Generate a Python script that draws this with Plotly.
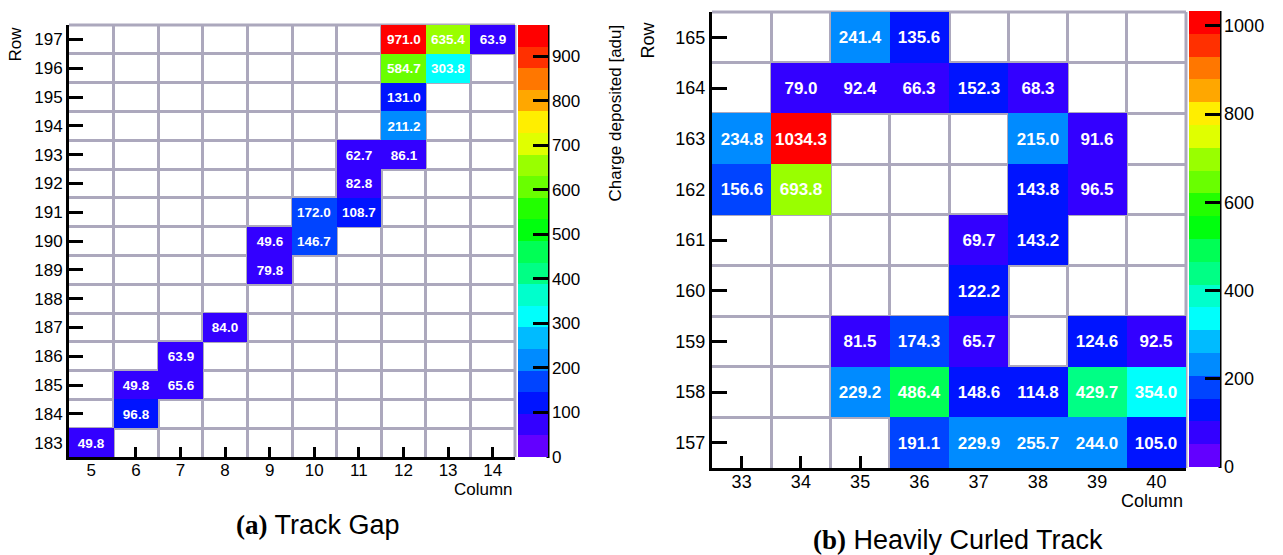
import colorsys
import plotly.graph_objects as go

W, H = 1283, 555

# ---------------- data ----------------
# (a) Track Gap
left_cols = [12, 13, 14, 12, 13, 12, 12, 11, 12, 11, 10, 11, 9, 10, 9, 8, 7, 6, 7, 6, 5]
left_rows = [197, 197, 197, 196, 196, 195, 194, 193, 193, 192, 191, 191, 190, 190, 189, 187, 186, 185, 185, 184, 183]
left_vals = [971.0, 635.4, 63.9, 584.7, 303.8, 131.0, 211.2, 62.7, 86.1, 82.8, 172.0, 108.7,
             49.6, 146.7, 79.8, 84.0, 63.9, 49.8, 65.6, 96.8, 49.8]
left_xticks = list(range(5, 15))
left_yticks = list(range(183, 198))

# (b) Heavily Curled Track
right_cols = [35, 36,
              34, 35, 36, 37, 38,
              33, 34, 38, 39,
              33, 34, 38, 39,
              37, 38,
              37,
              35, 36, 37, 39, 40,
              35, 36, 37, 38, 39, 40,
              36, 37, 38, 39, 40]
right_rows = [165, 165,
              164, 164, 164, 164, 164,
              163, 163, 163, 163,
              162, 162, 162, 162,
              161, 161,
              160,
              159, 159, 159, 159, 159,
              158, 158, 158, 158, 158, 158,
              157, 157, 157, 157, 157]
right_vals = [241.4, 135.6,
              79.0, 92.4, 66.3, 152.3, 68.3,
              234.8, 1034.3, 215.0, 91.6,
              156.6, 693.8, 143.8, 96.5,
              69.7, 143.2,
              122.2,
              81.5, 174.3, 65.7, 124.6, 92.5,
              229.2, 486.4, 148.6, 114.8, 429.7, 354.0,
              191.1, 229.9, 255.7, 244.0, 105.0]
right_xticks = list(range(33, 41))
right_yticks = list(range(157, 166))

# ---------------- style helpers ----------------
GRID = "#aca8bd"
FONT = "Liberation Sans"
NCONT = 20


def fx(px):
    return px / W


def fy(py):
    return 1 - py / H


def root_palette_color(k):
    # ROOT "pretty" palette (SetPalette(1)) with 20 contour levels
    idx = int((k + 0.99) * 50 / NCONT)
    if idx >= 49:
        return "rgb(255,0,0)"
    hue = 280 - (idx + 1) * 5.6
    r, g, b = colorsys.hls_to_rgb(hue / 360.0, 0.5, 1.0)
    return f"rgb({round(r*255)},{round(g*255)},{round(b*255)})"


colorscale = []
for k in range(NCONT):
    c = root_palette_color(k)
    colorscale.append([k / NCONT, c])
    colorscale.append([(k + 1) / NCONT, c])


def make_grid(cols, rows, vals, xt, yt):
    z = [[None for _ in xt] for _ in yt]
    for c, r, v in zip(cols, rows, vals):
        z[yt.index(r)][xt.index(c)] = v
    return z


fig = go.Figure()


def add_panel(cols, rows, vals, xt, yt, xa, ya, box, cbox, dtick, tsize, lsize, xtl, ytl, xstand):
    zmax = max(vals)
    # ROOT maps a cell to level int(0.01 + z*ncont/zmax); shift the range accordingly
    off = 0.01 * zmax / NCONT
    z = make_grid(cols, rows, vals, xt, yt)
    x0, x1, y0, y1 = box
    cx0, cx1, cy0, cy1 = cbox
    fig.add_trace(go.Heatmap(
        x=xt, y=yt, z=z, zmin=-off, zmax=zmax - off,
        colorscale=colorscale, xaxis=xa, yaxis=ya,
        texttemplate="%{z:.1f}",
        textfont=dict(family=FONT, size=tsize, color="white", weight="bold"),
        hoverinfo="skip",
        colorbar=dict(
            thickness=cx1 - cx0, thicknessmode="pixels",
            len=(cy1 - cy0) / H, lenmode="fraction",
            x=fx(cx0), xanchor="left", y=fy(cy0), yanchor="top",
            xpad=0, ypad=0, outlinewidth=0,
            ticks="inside", ticklen=15, tickwidth=3, tickcolor="black",
            tickmode="linear", tick0=0, dtick=dtick,
            tickfont=dict(family=FONT, size=lsize, color="black"),
        ),
    ))
    axname_x = "xaxis" if xa == "x" else "xaxis" + xa[1:]
    axname_y = "yaxis" if ya == "y" else "yaxis" + ya[1:]
    common = dict(showline=True, linecolor="black", linewidth=3, ticks="inside",
                  tickwidth=3, tickcolor="black", showgrid=False, zeroline=False,
                  layer="below traces", fixedrange=True,
                  tickfont=dict(family=FONT, size=lsize, color="black"))
    fig.layout[axname_x] = dict(
        domain=[fx(x0), fx(x1)], range=[xt[0] - 0.5, xt[-1] + 0.5], anchor=ya,
        tickmode="array", tickvals=xt, ticklen=xtl, ticklabelstandoff=xstand,
        minor=dict(tick0=0.5, dtick=1, showgrid=True, gridcolor=GRID, gridwidth=3, ticks=""),
        **common)
    fig.layout[axname_y] = dict(
        domain=[fy(y1), fy(y0)], range=[yt[0] - 0.5, yt[-1] + 0.5], anchor=xa,
        tickmode="array", tickvals=yt, ticklen=ytl,
        minor=dict(tick0=0.5, dtick=1, showgrid=True, gridcolor=GRID, gridwidth=3, ticks=""),
        **common)
    # grey frame along top and right edges
    fig.add_shape(type="line", xref="paper", yref="paper",
                  x0=fx(x0), x1=fx(x1), y0=fy(y0), y1=fy(y0), layer="below",
                  line=dict(color=GRID, width=3))
    fig.add_shape(type="line", xref="paper", yref="paper",
                  x0=fx(x1), x1=fx(x1), y0=fy(y0), y1=fy(y1), layer="below",
                  line=dict(color=GRID, width=3))
    # colour-bar axis line
    fig.add_shape(type="line", xref="paper", yref="paper",
                  x0=fx(cx1), x1=fx(cx1), y0=fy(cy1 + 1), y1=fy(cy0),
                  line=dict(color="black", width=3))


add_panel(left_cols, left_rows, left_vals, left_xticks, left_yticks, "x", "y",
          (69, 515, 25, 457), (518, 548, 25, 457), 100, 13.5, 17, 10, 14, -4)
add_panel(right_cols, right_rows, right_vals, right_xticks, right_yticks, "x2", "y2",
          (712, 1186, 12, 468), (1189, 1220, 11, 467), 200, 17, 18, 12, 15, -5)

ann = [
    dict(text="Row", x=fx(15), y=fy(25), textangle=-90, xanchor="center", yanchor="top", size=17),
    dict(text="Column", x=fx(515), y=fy(489), xanchor="right", yanchor="middle", size=17),
    dict(text="Charge deposited [adu]", x=fx(615), y=fy(23), textangle=-90, xanchor="center", yanchor="top", size=17),
    dict(text="Row", x=fx(648), y=fy(20), textangle=-90, xanchor="center", yanchor="top", size=18),
    dict(text="Column", x=fx(1185), y=fy(501), xanchor="right", yanchor="middle", size=18),
    dict(text="<b><span style='font-family:Liberation Serif'>(a)</span></b> Track Gap",
         x=fx(318), y=fy(525), xanchor="center", yanchor="middle", size=27),
    dict(text="<b><span style='font-family:Liberation Serif'>(b)</span></b> Heavily Curled Track",
         x=fx(958), y=fy(540), xanchor="center", yanchor="middle", size=27),
]
for a in ann:
    size = a.pop("size")
    fig.add_annotation(xref="paper", yref="paper", showarrow=False,
                       font=dict(family=FONT, size=size, color="black"), **a)

fig.update_layout(
    width=W, height=H, margin=dict(l=0, r=0, t=0, b=0),
    paper_bgcolor="white", plot_bgcolor="white",
    font=dict(family=FONT, color="black"),
    showlegend=False,
)

fig.write_html("out.html", config={"displayModeBar": False},
               post_script="document.body.style.margin='0px';")
